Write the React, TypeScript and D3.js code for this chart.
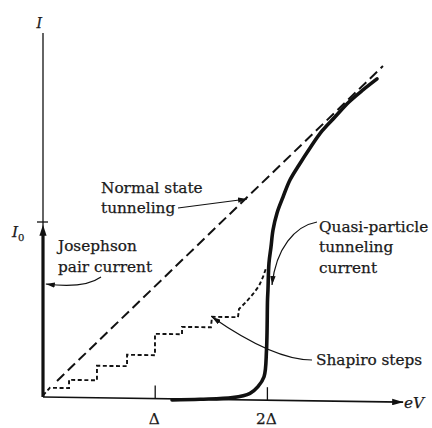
import React from "react";
import * as d3 from "d3";

// x: eV in units of Δ ; y: I in units of I0
const xTickValues = [1, 2];
const xTickLabels = ["Δ", "2Δ"];
const yTickValues = [1];

const normalV = [0.125, 3.03];
const normalI = [0.093, 1.919];

const josephsonV = [0, 0];
const josephsonI = [0, 0.985];

const quasiV = [1.15, 1.4, 1.69, 1.845, 1.916, 1.97, 1.992, 2.001, 2.005, 2.014, 2.032, 2.05, 2.086, 2.139, 2.201, 2.282, 2.38, 2.487, 2.602, 2.727, 2.852, 2.977];
const quasiI = [-0.006, 0.0, 0.012, 0.038, 0.077, 0.134, 0.287, 0.573, 0.63, 0.784, 0.876, 0.973, 1.071, 1.162, 1.26, 1.347, 1.445, 1.543, 1.624, 1.711, 1.781, 1.845];

const shapiroV = [0, 0.062, 0.232, 0.232, 0.481, 0.481, 0.749, 0.749, 0.998, 0.998, 1.239, 1.239, 1.497, 1.506, 1.738, 1.747, 1.809, 1.872, 1.925, 1.961, 1.988];
const shapiroI = [0.01, 0.053, 0.053, 0.1, 0.1, 0.183, 0.183, 0.248, 0.248, 0.37, 0.37, 0.412, 0.412, 0.472, 0.472, 0.519, 0.559, 0.606, 0.652, 0.704, 0.755];

export default function App() {
  const W = 432, H = 428;
  const xs = d3.scaleLinear().domain([0, 3.21]).range([43, 43 + 3.21 * 112.2]);
  const ys = d3.scaleLinear().domain([0, 1]).range([397, 222]);
  const K = 0.0143; // slight tilt of the scanned original
  const P = (v: number, i: number): [number, number] => [xs(v), ys(i) + K * (xs(v) - xs(0))];

  const lin = d3.line<[number, number]>().x(d => P(d[0], d[1])[0]).y(d => P(d[0], d[1])[1]);
  const smooth = d3.line<[number, number]>().x(d => P(d[0], d[1])[0]).y(d => P(d[0], d[1])[1]).curve(d3.curveCatmullRom.alpha(0.5));

  const zip = (a: number[], b: number[]) => a.map((v, i) => [v, b[i]] as [number, number]);

  const ink = "#111";
  const txt = "#1a1a1a";
  const font = "'DejaVu Serif', serif";

  const o = P(0, 0);
  const xEnd = P(3.21, 0);
  const yTop = P(0, 2.08);
  const jTip = P(josephsonV[1], josephsonI[1]);

  const tip = (v: number, i: number) => P(v, i).join(",");
  const normalArrow = `M178,208 L${tip(1.818, 1.148)}`;
  const josephArrow = `M101,277 Q84,289 ${P(0.025, 0.646).join(",")}`;
  const quasiArrow = `M317,222 C295,226 276,248 ${tip(2.041, 0.659)}`;
  const shapiroArrow = `M312,360 C285,360 248,342 ${tip(1.506, 0.471)}`;

  const textStyle = { fontFamily: font, fontSize: 15.3, fill: txt, stroke: txt, strokeWidth: 0.25 } as const;

  return (
    <svg width={W} height={H} style={{ position: "fixed", left: 0, top: 0, background: "#fff" }}>
      <defs>
        <marker id="ah" viewBox="0 0 10 6" refX={10} refY={3} markerWidth={9} markerHeight={5.5} markerUnits="userSpaceOnUse" orient="auto">
          <path d="M0,0 L10,3 L0,6 z" fill={ink} />
        </marker>
        <marker id="ax" viewBox="0 0 10 6" refX={10} refY={3} markerWidth={11} markerHeight={7} markerUnits="userSpaceOnUse" orient="auto">
          <path d="M0,0 L10,3 L0,6 z" fill={ink} />
        </marker>
      </defs>
      <rect width={W} height={H} fill="#fff" />

      {/* axes */}
      <line x1={o[0]} y1={o[1]} x2={xEnd[0]} y2={xEnd[1]} stroke={ink} strokeWidth={1.6} markerEnd="url(#ax)" />
      <line x1={o[0]} y1={o[1]} x2={yTop[0]} y2={yTop[1]} stroke={ink} strokeWidth={1.3} />
      {xTickValues.map((v, i) => {
        const p = P(v, 0);
        return (
          <g key={i}>
            <line x1={p[0]} y1={p[1]} x2={p[0]} y2={p[1] - 13} stroke={ink} strokeWidth={1.3} />
            <text x={p[0] - 1} y={424} textAnchor="middle" style={textStyle}>{xTickLabels[i]}</text>
          </g>
        );
      })}
      {yTickValues.map((v, i) => {
        const p = P(0, v);
        return <line key={i} x1={p[0] - 6} y1={p[1]} x2={p[0] + 5} y2={p[1]} stroke={ink} strokeWidth={1.3} />;
      })}

      {/* normal state tunneling */}
      <path d={lin(zip(normalV, normalI)) || ""} fill="none" stroke={ink} strokeWidth={2} strokeDasharray="10,5" />

      {/* Shapiro steps */}
      <path d={lin(zip(shapiroV, shapiroI)) || ""} fill="none" stroke={ink} strokeWidth={1.9} strokeDasharray="4,2.6" />

      {/* quasi-particle current */}
      <path d={smooth(zip(quasiV, quasiI)) || ""} fill="none" stroke={ink} strokeWidth={3.6} strokeLinecap="round" />

      {/* Josephson pair current */}
      <line x1={o[0]} y1={o[1]} x2={jTip[0]} y2={jTip[1] + 8} stroke={ink} strokeWidth={3.2} />
      <path d={`M${jTip[0]},${jTip[1]} L${jTip[0] + 3.6},${jTip[1] + 11} L${jTip[0] - 3.6},${jTip[1] + 11} Z`} fill={ink} />

      {/* annotation arrows */}
      {[normalArrow, josephArrow, quasiArrow, shapiroArrow].map((d, i) => (
        <path key={i} d={d} fill="none" stroke={ink} strokeWidth={1.2} markerEnd="url(#ah)" />
      ))}

      {/* labels */}
      <text x={36.5} y={28} style={{ ...textStyle, fontStyle: "italic", fontSize: 14 }}>I</text>
      <text x={12} y={237} style={{ ...textStyle, fontStyle: "italic" }}>
        I<tspan fontStyle="normal" fontSize={10} dy={3.5}>0</tspan>
      </text>
      <text x={404} y={407.5} style={{ ...textStyle, fontStyle: "italic" }}>eV</text>

      <text x={101} y={193} style={textStyle}>Normal state</text>
      <text x={101} y={213} style={textStyle}>tunneling</text>
      <text x={58} y={250.5} style={textStyle}>Josephson</text>
      <text x={58} y={271.5} style={textStyle}>pair current</text>
      <text x={319} y={232} style={textStyle}>Quasi-particle</text>
      <text x={319} y={252} style={textStyle}>tunneling</text>
      <text x={319} y={273} style={textStyle}>current</text>
      <text x={316} y={364.5} style={textStyle}>Shapiro steps</text>
    </svg>
  );
}
